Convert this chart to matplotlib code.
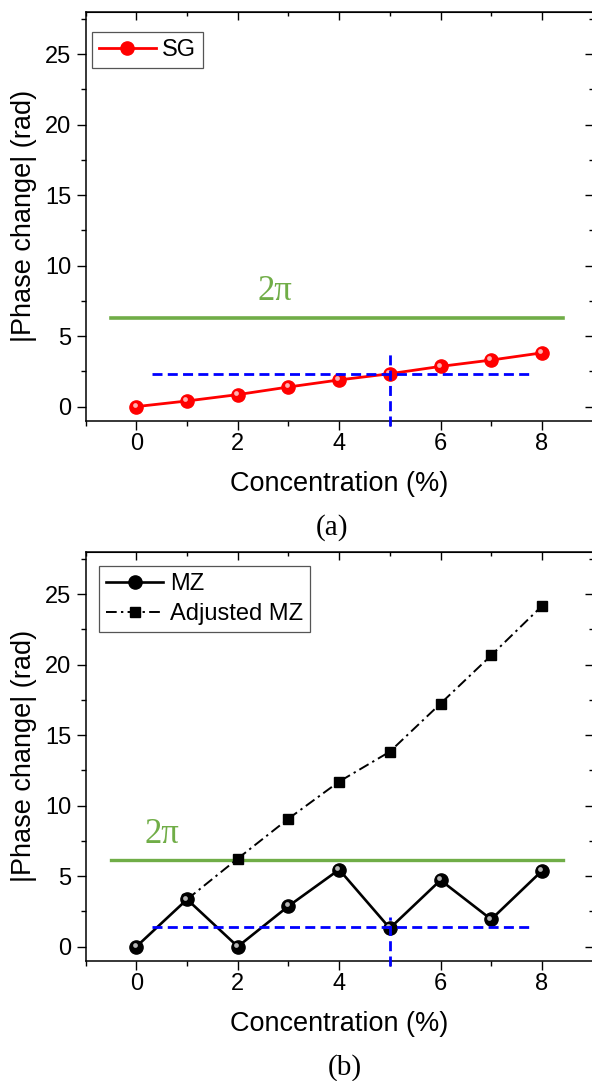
import numpy as np
import matplotlib
matplotlib.use("Agg")
import matplotlib.pyplot as plt
from matplotlib.transforms import offset_copy
from matplotlib.ticker import MultipleLocator

# ---------------- data ----------------
conc = [0, 1, 2, 3, 4, 5, 6, 7, 8]
sg_phase = [0.0, 0.40, 0.85, 1.39, 1.89, 2.33, 2.85, 3.30, 3.81]
mz_phase = [0.0, 3.35, 0.0, 2.87, 5.46, 1.30, 4.71, 1.93, 5.37]
adj_conc = [1, 2, 3, 4, 5, 6, 7, 8]
adj_mz_phase = [3.35, 6.24, 9.07, 11.70, 13.82, 17.23, 20.65, 24.15]

two_pi_top = 6.28
two_pi_bot = 6.12
two_pi_span = [-0.5, 8.42]
guide_x_span = [0.31, 7.80]
sg_guide_y = 2.31
mz_guide_y = 1.41
guide_x = 5
sg_vline = [-1.38, 3.81]
mz_vline = [-1.38, 2.12]

xticks = [0, 2, 4, 6, 8]
yticks = [0, 5, 10, 15, 20, 25]

GREEN = "#70AD47"
SANS = ["Liberation Sans", "DejaVu Sans"]
SERIF = ["Liberation Serif", "DejaVu Serif"]

plt.rcParams["font.family"] = SANS

W, H = 592, 1081
fig = plt.figure(figsize=(W / 100, H / 100), dpi=100)

ax_left = 85.7 / W
ax_w = (592.6 - 85.7) / W
ax_h = (420.7 - 11.7) / H
axA = fig.add_axes([ax_left, (H - 420.7) / H, ax_w, ax_h])
axB = fig.add_axes([ax_left, (H - 960.7) / H, ax_w, ax_h])


def style_axes(ax):
    ax.set_xlim(-1, 9)
    ax.set_ylim(-1, 28)
    ax.set_xticks(xticks)
    ax.set_yticks(yticks)
    ax.xaxis.set_minor_locator(MultipleLocator(1))
    ax.yaxis.set_minor_locator(MultipleLocator(2.5))
    for s in ax.spines.values():
        s.set_linewidth(1.1)
    ax.tick_params(which="major", direction="out", length=6.5, width=1.0,
                   labelsize=17, pad=2)
    ax.tick_params(axis="y", which="major", pad=4)
    ax.tick_params(which="minor", direction="out", length=3.6, width=1.0)
    # top / right ticks pointing inward
    top = ax.secondary_xaxis("top")
    top.set_xticks(xticks)
    top.xaxis.set_minor_locator(MultipleLocator(1))
    top.tick_params(which="major", direction="in", length=6, width=1.0, labeltop=False)
    top.tick_params(which="minor", direction="in", length=3, width=1.0)
    right = ax.secondary_yaxis("right")
    right.set_yticks(yticks)
    right.yaxis.set_minor_locator(MultipleLocator(2.5))
    right.tick_params(which="major", direction="in", length=6, width=1.0, labelright=False)
    right.tick_params(which="minor", direction="in", length=3, width=1.0)
    ax.set_xlabel("Concentration (%)", fontsize=19.5, labelpad=12)
    ax.set_ylabel("|Phase change| (rad)", fontsize=19.5, labelpad=6)


def sphere(ax, x, y, color, hl_color, ms, lw, label, z=5):
    line, = ax.plot(x, y, linestyle="-", color=color, lw=lw, marker="o", ms=ms,
                    mfc=color, mec=color, label=label, zorder=z)
    tr = offset_copy(ax.transData, fig=fig, x=-1.3, y=1.3, units="points")
    ax.plot(x, y, linestyle="none", marker="o", ms=ms * 0.36, mfc=hl_color,
            mec="none", alpha=0.85, transform=tr, zorder=z + 0.1)
    return line


# ---------------- panel (a) ----------------
style_axes(axA)
axA.plot(two_pi_span, [two_pi_top, two_pi_top], color=GREEN, lw=2.6, zorder=2)
axA.text(2.73, 8.15, "2π", color=GREEN, fontsize=25, family=SERIF,
         ha="center", va="center")
axA.plot(guide_x_span, [sg_guide_y, sg_guide_y], color="#0000FF", lw=2.0,
         dashes=(3.6, 1.9), zorder=6)
axA.plot([guide_x, guide_x], sg_vline, color="#0000FF", lw=2.0,
         dashes=(3.6, 1.9), zorder=6, clip_on=False)
lsg = sphere(axA, conc, sg_phase, "#FF0000", "#FFD0D0", 9.5, 2.0, "SG")
legA = axA.legend(handles=[lsg], loc="upper left", bbox_to_anchor=(0.012, 0.95),
                  borderaxespad=0, fontsize=17, frameon=True, fancybox=False,
                  edgecolor="#555555", framealpha=1, handlelength=2.4,
                  handletextpad=0.25, borderpad=0.3)
legA.get_frame().set_linewidth(0.9)

# ---------------- panel (b) ----------------
style_axes(axB)
axB.plot(two_pi_span, [two_pi_bot, two_pi_bot], color=GREEN, lw=2.4, zorder=2)
axB.text(0.5, 7.95, "2π", color=GREEN, fontsize=25, family=SERIF,
         ha="center", va="center")
ladj, = axB.plot(adj_conc, adj_mz_phase, color="black", lw=1.4,
                 dashes=(5.5, 2.2, 1.2, 2.2), marker="s", ms=6.5, mfc="black",
                 mec="black", label="Adjusted MZ", zorder=4)
axB.plot(guide_x_span, [mz_guide_y, mz_guide_y], color="#0000FF", lw=2.0,
         dashes=(3.6, 1.9), zorder=6)
axB.plot([guide_x, guide_x], mz_vline, color="#0000FF", lw=2.0,
         dashes=(3.6, 1.9), zorder=6, clip_on=False)
lmz = sphere(axB, conc, mz_phase, "black", "#D8D8D8", 9.5, 1.9, "MZ")
legB = axB.legend(handles=[lmz, ladj], loc="upper left",
                  bbox_to_anchor=(0.027, 0.965), borderaxespad=0, fontsize=17,
                  frameon=True, fancybox=False, edgecolor="#555555",
                  framealpha=1, handlelength=2.4, handletextpad=0.3,
                  borderpad=0.3, labelspacing=0.35)
legB.get_frame().set_linewidth(0.9)

fig.text(332 / W, 1 - 528 / H, "(a)", family=SERIF, fontsize=21,
         ha="center", va="center")
fig.text(345 / W, 1 - 1068 / H, "(b)", family=SERIF, fontsize=21,
         ha="center", va="center")

fig.savefig("out.png", dpi=100)
